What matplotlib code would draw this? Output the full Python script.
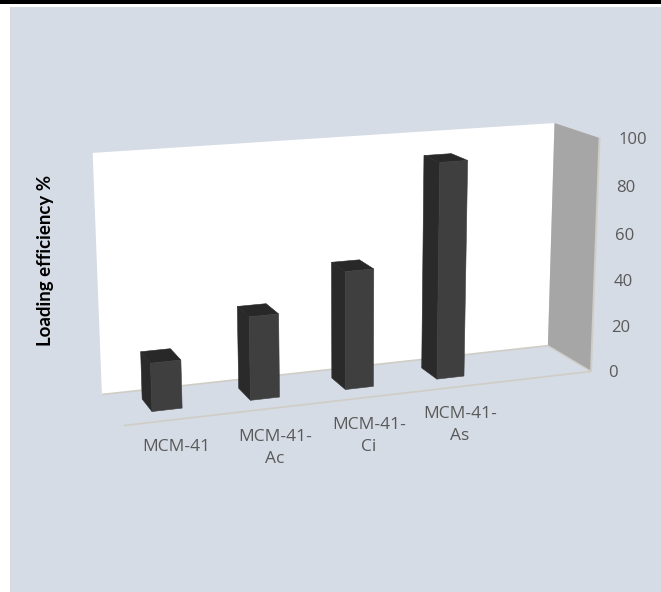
import numpy as np
import matplotlib
matplotlib.use("Agg")
import matplotlib.pyplot as plt
from matplotlib.patches import Polygon, Rectangle

# Chart data
categories = ["MCM-41", "MCM-41-\nAc", "MCM-41-\nCi", "MCM-41-\nAs"]
loading_efficiency = [20, 35, 50, 92]
y_ticks = [0, 20, 40, 60, 80, 100]

# Box corners in model space (x across, v = value fraction, z depth; z=1 is the back wall)
# paired with where they land on the canvas
MODEL = [(0, 1, 1), (1, 1, 1), (1, 0, 1), (0, 0, 1), (1, 1, 0), (1, 0, 0), (0, 0, 0), (0, 1, 0)]
CANVAS = [(93, 152), (554, 123), (548, 346), (102, 395), (600, 138), (591, 371), (124, 425), (115, 172)]


def fit_camera(model, canvas):
    rows, rhs = [], []
    for (x, v, z), (u, w) in zip(model, canvas):
        rows.append([x, v, z, 1, 0, 0, 0, 0, -u * x, -u * v, -u * z])
        rhs.append(u)
        rows.append([0, 0, 0, 0, x, v, z, 1, -w * x, -w * v, -w * z])
        rhs.append(w)
    p = np.linalg.lstsq(np.array(rows, float), np.array(rhs, float), rcond=None)[0]
    return np.append(p, 1.0).reshape(3, 4)


CAMERA = fit_camera(MODEL, CANVAS)


def project(x, value, z):
    h = CAMERA @ np.array([x, value / 100.0, z, 1.0])
    return h[0] / h[2], h[1] / h[2]


fig = plt.figure(figsize=(6.61, 5.92), dpi=100, facecolor="white")
ax = fig.add_axes([0, 0, 1, 1])
ax.set_xlim(0, 661)
ax.set_ylim(592, 0)
ax.axis("off")

# Page backdrop with the dark rule along the top
ax.add_patch(Rectangle((10, 7), 651, 585, fc="#D6DCE5", ec="none", zorder=0))
ax.add_patch(Rectangle((10, 7), 1.5, 585, fc="#DADADA", ec="none", zorder=0))
ax.add_patch(Rectangle((0, 0), 661, 4, fc="#000000", ec="none", zorder=0))

# Walls
back = [project(0, 100, 1), project(1, 100, 1), project(1, 0, 1), project(0, 0, 1)]
ax.add_patch(Polygon(back, closed=True, fc="white", ec="none", zorder=1))
side = [project(1, 100, 1), project(1, 100, 0), project(1, 0, 0), project(1, 0, 1)]
ax.add_patch(Polygon(side, closed=True, fc="#A6A6A6", ec="none", zorder=1))

# Thin edges of the box
edge = "#CFCDC6"
for a, b, lw in [((0, 0, 1), (1, 0, 1), 1.2), ((0, 0, 0), (1, 0, 0), 1.2),
                 ((1, 0, 1), (1, 0, 0), 1.0), ((1, 100, 0), (1, 0, 0), 1.4)]:
    p, q = project(*a), project(*b)
    ax.plot([p[0], q[0]], [p[1], q[1]], color=edge, lw=lw, zorder=2, solid_capstyle="butt")

# Bars
BAR_START, BAR_STEP, BAR_WIDTH = 0.07, 0.202, 0.061
Z_FRONT, Z_BACK = 0.31, 0.72
for i, value in enumerate(loading_efficiency):
    x0 = BAR_START + i * BAR_STEP
    x1 = x0 + BAR_WIDTH
    left = [project(x0, 0, Z_FRONT), project(x0, value, Z_FRONT), project(x0, value, Z_BACK), project(x0, 0, Z_BACK)]
    top = [project(x0, value, Z_FRONT), project(x1, value, Z_FRONT), project(x1, value, Z_BACK), project(x0, value, Z_BACK)]
    front = [project(x0, 0, Z_FRONT), project(x1, 0, Z_FRONT), project(x1, value, Z_FRONT), project(x0, value, Z_FRONT)]
    ax.add_patch(Polygon(left, closed=True, fc="#2A2A2A", ec="#2A2A2A", lw=0.4, zorder=3))
    ax.add_patch(Polygon(top, closed=True, fc="#282828", ec="#282828", lw=0.4, zorder=3))
    ax.add_patch(Polygon(front, closed=True, fc="#3F3F3F", ec="#3F3F3F", lw=0.4, zorder=4))

# Axis text
text_color = "#595959"
cat_pos = [(176, 447), (275, 448), (369, 436), (460, 425)]
for label, (px, py) in zip(categories, cat_pos):
    ax.text(px, py, label, ha="center", va="center", fontsize=12.5, color=text_color,
            family="Open Sans", linespacing=1.45)

tick_x = [613, 621, 623, 625, 626, 633]
tick_y = [373, 328, 282, 236, 188, 140]
for tick, px, py in zip(y_ticks, tick_x, tick_y):
    ax.text(px, py, str(tick), ha="center", va="center", fontsize=12, color=text_color,
            family="Open Sans")

ax.text(46, 260, "Loading efficiency %", rotation=90, ha="center", va="center",
        fontsize=13.4, fontweight="bold", color="black", family="Lato")

fig.savefig("out.png", dpi=100, facecolor=fig.get_facecolor())
